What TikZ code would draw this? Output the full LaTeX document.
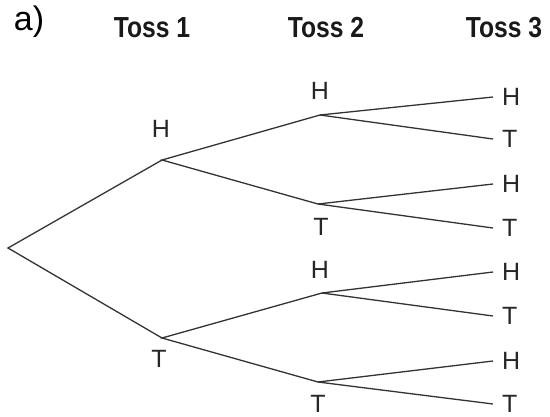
\documentclass[tikz,border=0pt]{standalone}
\usepackage{fontspec}
\setmainfont{Liberation Sans}
\usepackage{graphicx}

\begin{document}
\begin{tikzpicture}[x=1pt,y=-1pt,
  br/.style={draw=black!80, line width=1.3pt},
  lbl/.style={font=\fontsize{25}{25}\selectfont, text=black!85, inner sep=0pt},
  leaf/.style={lbl, anchor=west, inner xsep=9pt},
  hdr/.style={font=\bfseries\fontsize{29}{29}\selectfont, text=black!90}]
  \useasboundingbox (0,0) rectangle (550,416);
  \node[font=\fontsize{34}{34}\selectfont] (part) at (29,22) {a)};
  \foreach \i/\x in {1/152,2/326,3/504} \node[hdr] (toss\i) at (\x,28) {\scalebox{0.85}[1]{Toss \i}};
  \coordinate (root) at (8,248);
  \coordinate (h) at (162,160);
  \coordinate (t) at (162,338);
  \coordinate (hh) at (320,115);
  \coordinate (ht) at (318,204);
  \coordinate (th) at (322,293);
  \coordinate (tt) at (318,382);
  \draw[br] (h) -- (root) -- (t);
  \draw[br] (hh) -- (h) -- (ht);
  \draw[br] (th) -- (t) -- (tt);
  \node[lbl] (lh) at (161,129) {H};
  \node[lbl] (lt) at (159,359) {T};
  \node[lbl] (lhh) at (320,91) {H};
  \node[lbl] (lht) at (321,227) {T};
  \node[lbl] (lth) at (320,270) {H};
  \node[lbl] (ltt) at (318,404) {T};
  \foreach \n/\y/\p/\s in {hhh/97/hh/H, hht/139/hh/T, hth/184/ht/H, htt/228/ht/T,
                           thh/272/th/H, tht/316/th/T, tth/361/tt/H, ttt/404/tt/T} {
    \node[leaf] (\n) at (493,\y) {\s};
    \draw[br] (\p) -- (\n.west);
  }
\end{tikzpicture}
\end{document}
